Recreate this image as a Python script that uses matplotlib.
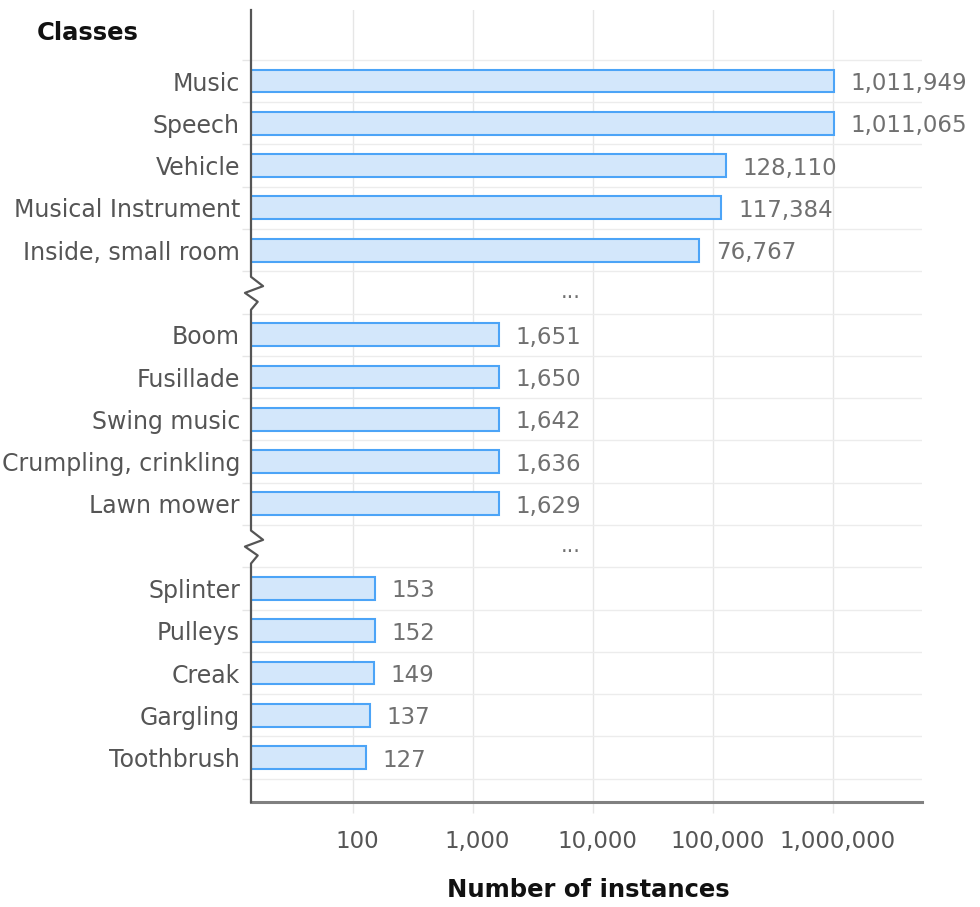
import numpy as np
import matplotlib
matplotlib.use("Agg")
import matplotlib.pyplot as plt
from matplotlib import transforms

# class counts, three groups (most frequent, middle, least frequent)
top_classes = ["Music", "Speech", "Vehicle", "Musical Instrument", "Inside, small room"]
top_counts = [1011949, 1011065, 128110, 117384, 76767]
mid_classes = ["Boom", "Fusillade", "Swing music", "Crumpling, crinkling", "Lawn mower"]
mid_counts = [1651, 1650, 1642, 1636, 1629]
tail_classes = ["Splinter", "Pulleys", "Creak", "Gargling", "Toothbrush"]
tail_counts = [153, 152, 149, 137, 127]

x_ticks = [100, 1000, 10000, 100000, 1000000]

# one empty row between groups for the "..." marker
labels = top_classes + [""] + mid_classes + [""] + tail_classes
counts = top_counts + [None] + mid_counts + [None] + tail_counts
rows = np.arange(len(labels))
gap_rows = [len(top_classes), len(top_classes) + len(mid_classes) + 1]
bar_rows = [r for r, c in zip(rows, counts) if c is not None]
bar_vals = [c for c in counts if c is not None]

txt = "#555555"
grid = "#e6e6e6"
plt.rcParams["font.family"] = ["DejaVu Sans"]

fig = plt.figure(figsize=(9.8, 9.07), dpi=100)
ax = fig.add_axes([251 / 980, 1 - 802 / 907, (922 - 251) / 980, (802 - 10) / 907])
ax.set_xscale("log")

ax.barh(bar_rows, bar_vals, height=0.54, color="#d3e7fb", edgecolor="#4ca4f7",
        linewidth=1.5, zorder=3)
for r, v in zip(bar_rows, bar_vals):
    ax.annotate(f"{v:,}", (v, r), xytext=(12, 0), textcoords="offset points",
                va="center_baseline", ha="left", fontsize=16.5, color="#707070")

for r in gap_rows:
    ax.text(6500, r, "...", ha="center", va="center", fontsize=15, color="#707070")

ax.set_xlim(14.1, 5.5e6)
ax.set_ylim(17.05, -1.68)

ax.set_xticks(x_ticks)
ax.set_xticklabels([f"{t:,}" for t in x_ticks])
ax.xaxis.set_minor_locator(matplotlib.ticker.NullLocator())
ax.tick_params(axis="x", which="major", length=8, color=grid, width=1, pad=12,
               labelsize=16.5, labelcolor=txt)
shift = transforms.ScaledTranslation(4 / 100, 0, fig.dpi_scale_trans)
for lab in ax.get_xticklabels():
    lab.set_transform(lab.get_transform() + shift)

ax.set_yticks(rows)
ax.set_yticklabels(labels)
ax.set_yticks(np.arange(-0.5, len(labels), 1), minor=True)
ax.tick_params(axis="y", which="major", length=0, pad=8, labelsize=17, labelcolor=txt)
ax.tick_params(axis="y", which="minor", length=6.5, color=grid, width=1)

ax.grid(axis="x", which="major", color=grid, linewidth=1, zorder=0)
ax.grid(axis="y", which="minor", color="#ececec", linewidth=1, zorder=0)
ax.set_axisbelow(True)

for s in ["top", "right", "left"]:
    ax.spines[s].set_visible(False)
ax.spines["bottom"].set_color("#808080")
ax.spines["bottom"].set_linewidth(2.2)

# left axis line with zigzag breaks at the skipped rows
trans = transforms.blended_transform_factory(ax.transAxes, ax.transData)
zig_dx = [0, 0.018, -0.009, 0.010, 0]
zig_dy = [-0.37, -0.15, 0.01, 0.22, 0.41]
xs, ys = [0], [-1.68]
for g in gap_rows:
    xs += zig_dx
    ys += [g + d for d in zig_dy]
xs.append(0)
ys.append(17.05)
ax.plot(xs, ys, color="#555555", linewidth=1.6, transform=trans, clip_on=False, zorder=5)

fig.text(37 / 980, 1 - 33 / 907, "Classes", fontsize=17.5, fontweight="bold",
         color="#111111", ha="left", va="center")
fig.text(588 / 980, 1 - 890 / 907, "Number of instances", fontsize=17.5,
         fontweight="bold", color="#111111", ha="center", va="center")

fig.savefig("out.png", dpi=100)
